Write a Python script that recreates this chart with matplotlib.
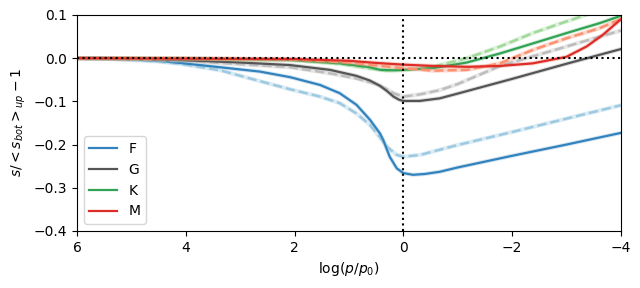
"""Relative entropy deviation vs pressure for F/G/K/M stars."""

import matplotlib

matplotlib.use("Agg")
import matplotlib.pyplot as plt

# ---- data ----
F_x = [6, 5.5, 5, 4.5, 4.11, 3.37, 2.64, 2.08, 1.53, 1.17, 0.86, 0.61, 0.43, 0.37, 0.25, 0.12,
       0, -0.18, -0.4, -0.67, -1, -2, -3, -4]
F_y = [0, -0.001, -0.003, -0.006, -0.011, -0.021, -0.031, -0.044, -0.062, -0.081, -0.108,
       -0.143, -0.174, -0.189, -0.228, -0.255, -0.266, -0.270, -0.268, -0.263, -0.253, -0.226,
       -0.200, -0.173]
F_dash_x = [6, 5.5, 5, 4.5, 4.11, 3.37, 2.875, 2.08, 1.53, 1.17, 0.86, 0.61, 0.43, 0.30, 0.12,
            0, -0.31, -0.67, -1, -2, -3, -4]
F_dash_y = [0, -0.001, -0.004, -0.008, -0.013, -0.028, -0.045, -0.072, -0.089, -0.104, -0.128,
            -0.155, -0.183, -0.205, -0.224, -0.228, -0.224, -0.212, -0.201, -0.171, -0.140,
            -0.109]

G_x = [6, 5, 4, 3, 2.08, 1.35, 0.86, 0.61, 0.43, 0.30, 0.18, 0.08, 0, -0.3, -0.67, -1, -2,
       -3, -4]
G_y = [0, -0.001, -0.005, -0.010, -0.016, -0.027, -0.041, -0.052, -0.064, -0.076, -0.089,
       -0.096, -0.099, -0.099, -0.093, -0.082, -0.048, -0.013, 0.021]
G_dash_x = [6, 4, 3, 2.08, 1.35, 0.86, 0.49, 0.30, 0.18, 0, -0.3, -0.67, -1, -1.78, -3, -4]
G_dash_y = [0, -0.006, -0.014, -0.021, -0.035, -0.047, -0.060, -0.072, -0.081, -0.089, -0.084,
            -0.074, -0.060, -0.018, 0.027, 0.064]

K_x = [6, 4, 3, 2.08, 1.17, 0.61, 0.43, 0.2, 0, -0.55, -1.17, -1.78, -2.38, -3, -3.61, -4]
K_y = [0, -0.001, -0.002, -0.004, -0.012, -0.021, -0.027, -0.028, -0.027, -0.023, -0.010,
       0.011, 0.034, 0.058, 0.081, 0.098]
K_dash_x = [6, 4, 2, 1.17, 0.61, 0.3, 0, -0.55, -1.17, -1.78, -2.38, -3, -3.6, -4]
K_dash_y = [0, -0.001, -0.005, -0.013, -0.024, -0.029, -0.028, -0.020, 0.000, 0.027, 0.058,
            0.085, 0.110, 0.125]

M_x = [6, 4, 2, 1, 0.5, 0, -0.55, -1.17, -1.78, -2.38, -3, -3.37, -3.67, -4]
M_y = [0, -0.001, -0.002, -0.006, -0.011, -0.015, -0.018, -0.020, -0.018, -0.012, 0.003, 0.027,
       0.054, 0.090]
M_dash_x = [6, 4, 2, 1, 0.5, 0, -0.55, -1.17, -1.78, -2.38, -3, -3.6, -4]
M_dash_y = [0, -0.001, -0.003, -0.010, -0.017, -0.023, -0.029, -0.027, -0.012, 0.019, 0.046,
            0.069, 0.090]

series = [
    ("F", F_x, F_y, F_dash_x, F_dash_y, "#3182bd", "#9ecae1"),
    ("G", G_x, G_y, G_dash_x, G_dash_y, "#555555", "#bdbdbd"),
    ("K", K_x, K_y, K_dash_x, K_dash_y, "#31a354", "#a1d99b"),
    ("M", M_x, M_y, M_dash_x, M_dash_y, "#de2d26", "#fc9272"),
]

fig = plt.figure(figsize=(6.4, 2.88), dpi=100)
ax = fig.add_axes([0.1203, 0.198, 0.8497, 0.75])

for name, x, y, xd, yd, col, light in series:
    # faint band under each curve
    ax.plot(x, y, color=col, alpha=0.2, lw=3)
    ax.plot(xd, yd, color=light, alpha=0.35, lw=3)
    ax.plot(xd, yd, color=light, lw=1.8, ls="--")
    ax.plot(x, y, color=col, lw=1.6, label=name)

ax.axhline(0, color="black", ls=":", lw=1.5)
ax.axvline(0, color="black", ls=":", lw=1.5)

ax.set_xlim(6, -4)
ax.set_ylim(-0.4, 0.1)
ax.set_xticks([6, 4, 2, 0, -2, -4])
ax.set_yticks([-0.4, -0.3, -0.2, -0.1, 0.0, 0.1])
ax.set_xlabel(r"$\log(p/p_0)$")
ax.set_ylabel(r"$s/<s_{bot}>_{up}-1$")
ax.legend(loc="lower left")

fig.savefig("out.png", dpi=100)
